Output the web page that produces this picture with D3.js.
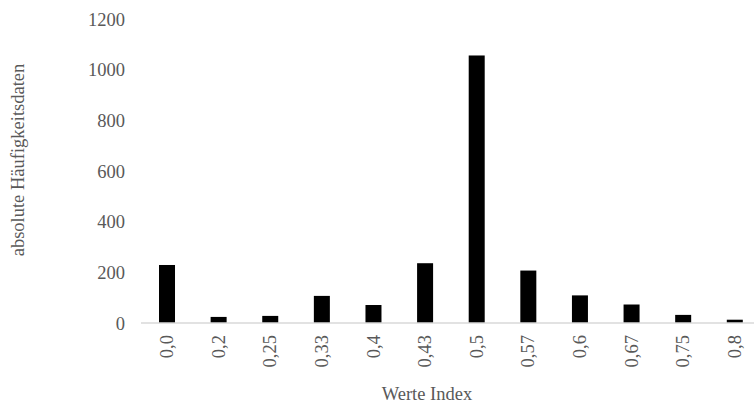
<!DOCTYPE html>
<html><head><meta charset="utf-8">
<script src="https://cdn.jsdelivr.net/npm/d3@7"></script>
<style>body{margin:0;background:#fff}svg{display:block}
svg text{font-family:'Liberation Serif','Times New Roman',serif !important;font-size:18.5px;fill:#595959}</style>
</head><body>
<svg id="c" width="754" height="406"></svg>
<script>
const categories = ["0,0","0,2","0,25","0,33","0,4","0,43","0,5","0,57","0,6","0,67","0,75","0,8"];
const values = [229, 24, 28, 107, 71, 236, 1056, 207, 109, 73, 32, 13];
const yTicks = [0, 200, 400, 600, 800, 1000, 1200];
const xTitle = "Werte Index";
const yTitle = "absolute Häufigkeitsdaten";

const svg = d3.select("#c");
const grey = "#595959";

const x = d3.scaleBand().domain(categories).range([141.2, 760.6]).paddingInner(0.69).paddingOuter(0.345);
const y = d3.scaleLinear().domain([0, 1200]).range([323, 19]);

svg.append("g").selectAll("rect").data(values).join("rect")
  .attr("x", (d, i) => x(categories[i]))
  .attr("y", d => y(d))
  .attr("width", x.bandwidth())
  .attr("height", d => y(0) - y(d))
  .attr("fill", "#000");

// y axis (labels only)
const ya = svg.append("g").attr("transform", "translate(125,0)")
  .call(d3.axisLeft(y).tickValues(yTicks).tickSize(0).tickPadding(0).tickFormat(d3.format("d")));
ya.attr("font-family", null).attr("font-size", null);
ya.select(".domain").remove();
ya.selectAll("text").style("fill", grey).attr("dy", "0.34em");

// x axis
const xa = svg.append("g").attr("transform", `translate(0,${y(0)})`)
  .call(d3.axisBottom(x).tickSize(0).tickPadding(0));
xa.attr("font-family", null).attr("font-size", null);
xa.select(".domain").attr("stroke", "#d9d9d9").attr("stroke-width", 1.3).attr("d", "M141,0H754");
xa.selectAll("text")
  .style("fill", grey)
  .attr("transform", "rotate(-90)")
  .attr("text-anchor", "end")
  .attr("x", -12).attr("y", 0).attr("dy", "0.33em");

svg.append("text").attr("x", 427).attr("y", 400).attr("text-anchor", "middle").text(xTitle);

svg.append("text").attr("transform", "translate(24,160) rotate(-90)").attr("text-anchor", "middle").text(yTitle);
</script>
</body></html>
